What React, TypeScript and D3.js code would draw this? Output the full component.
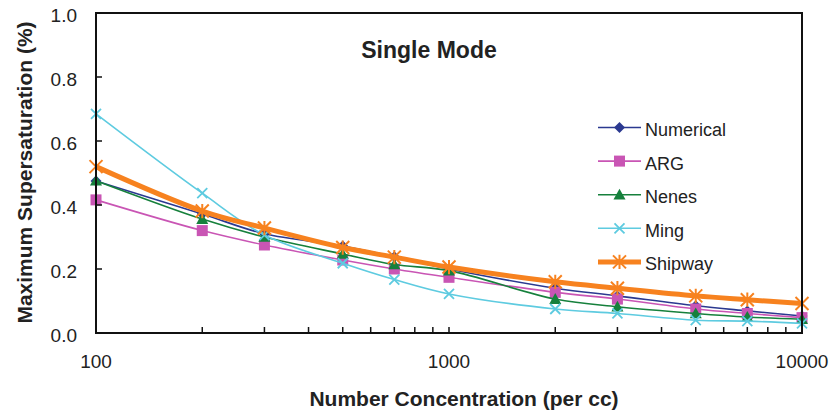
import React from "react";
import * as d3 from "d3";

const concentrations = [100, 200, 300, 500, 700, 1000, 2000, 3000, 5000, 7000, 10000];
const numerical = [0.475, 0.372, 0.31, 0.272, 0.238, 0.2, 0.14, 0.116, 0.085, 0.069, 0.053];
const arg = [0.416, 0.32, 0.275, 0.228, 0.2, 0.174, 0.127, 0.106, 0.075, 0.061, 0.048];
const nenes = [0.476, 0.356, 0.3, 0.247, 0.214, 0.195, 0.106, 0.082, 0.061, 0.05, 0.043];
const ming = [0.685, 0.437, 0.306, 0.218, 0.167, 0.122, 0.075, 0.061, 0.04, 0.037, 0.03];
const shipway = [0.52, 0.381, 0.328, 0.267, 0.237, 0.206, 0.16, 0.14, 0.116, 0.104, 0.092];
const seriesNames = ["Numerical", "ARG", "Nenes", "Ming", "Shipway"];
const yTicks = [0, 0.2, 0.4, 0.6, 0.8, 1.0];
const xLabels = [100, 1000, 10000];

const colors = ["#2b3990", "#c955b4", "#16803c", "#5ecbe0", "#f7821f"];
const widths = [1.6, 1.6, 1.6, 1.6, 5];
const markerTypes = ["diamond", "square", "triangle", "x", "star"];

const W = 833, H = 412;
const L = 96, R = 802, T = 13, B = 333;
const font = "'Liberation Sans', Arial, sans-serif";

function Marker({ type, x, y, color }: { type: string; x: number; y: number; color: string }) {
  if (type === "diamond") {
    const s = 5.5;
    return <path d={`M${x},${y - s}L${x + s},${y}L${x},${y + s}L${x - s},${y}Z`} fill={color} />;
  }
  if (type === "square") {
    const s = 5.5;
    return <rect x={x - s} y={y - s} width={2 * s} height={2 * s} fill={color} />;
  }
  if (type === "triangle") {
    const s = 6;
    return <path d={`M${x},${y - s}L${x + s},${y + s * 0.8}L${x - s},${y + s * 0.8}Z`} fill={color} />;
  }
  if (type === "x") {
    const s = 5;
    return (
      <path d={`M${x - s},${y - s}L${x + s},${y + s}M${x - s},${y + s}L${x + s},${y - s}`} stroke={color} strokeWidth={1.8} />
    );
  }
  const s = 6.5;
  return (
    <path
      d={`M${x - s},${y - s}L${x + s},${y + s}M${x - s},${y + s}L${x + s},${y - s}M${x},${y - s * 1.1}L${x},${y + s * 1.1}`}
      stroke={color}
      strokeWidth={2}
    />
  );
}

export default function App() {
  const x = d3.scaleLog().domain([100, 10000]).range([L, R]);
  const y = d3.scaleLinear().domain([0, 1]).range([B, T]);
  const data = [numerical, arg, nenes, ming, shipway];
  const line = d3
    .line<number>()
    .x((_, i) => x(concentrations[i]))
    .y((d) => y(d))
    .curve(d3.curveCatmullRom.alpha(0.5));

  const minorTicks = x.ticks().filter((t) => t > 100 && t < 10000);

  return (
    <svg width={W} height={H} style={{ position: "absolute", left: 0, top: 0, background: "#fff" }}>
      {/* series */}
      {data.map((vals, si) => (
        <g key={seriesNames[si]}>
          <path d={line(vals) || ""} fill="none" stroke={colors[si]} strokeWidth={widths[si]} />
          {vals.map((v, i) => (
            <Marker key={i} type={markerTypes[si]} x={x(concentrations[i])} y={y(v)} color={colors[si]} />
          ))}
        </g>
      ))}
      {/* frame */}
      <rect x={L} y={T} width={R - L} height={B - T} fill="none" stroke="#111" strokeWidth={2} />
      {yTicks.map((t) => (
        <g key={t}>
          <line x1={L} x2={L + 6} y1={y(t)} y2={y(t)} stroke="#111" strokeWidth={1.5} />
          <text x={77} y={y(t) + 8.5} textAnchor="end" fontFamily={font} fontSize={19} fill="#222">
            {d3.format(".1f")(t)}
          </text>
        </g>
      ))}
      {minorTicks.map((t) => (
        <line key={t} x1={x(t)} x2={x(t)} y1={B} y2={B - 6} stroke="#111" strokeWidth={1.5} />
      ))}
      {xLabels.map((t) => (
        <text key={t} x={x(t)} y={368} textAnchor="middle" fontFamily={font} fontSize={19} fill="#222">
          {t}
        </text>
      ))}
      <text x={464} y={406} textAnchor="middle" fontFamily={font} fontSize={21} fontWeight="bold" fill="#222">
        Number Concentration (per cc)
      </text>
      <text
        transform={`translate(32,172.5) rotate(-90)`}
        textAnchor="middle"
        fontFamily={font}
        fontSize={21}
        fontWeight="bold"
        fill="#222"
      >
        Maximum Supersaturation (%)
      </text>
      <text x={429} y={58} textAnchor="middle" fontFamily={font} fontSize={23} fontWeight="bold" fill="#222">
        Single Mode
      </text>
      {/* legend */}
      {seriesNames.map((n, i) => {
        const ly = 127.5 + i * 33.6;
        return (
          <g key={n}>
            <line x1={598} x2={641} y1={ly} y2={ly} stroke={colors[i]} strokeWidth={widths[i]} />
            <Marker type={markerTypes[i]} x={619.5} y={ly} color={colors[i]} />
            <text x={645} y={ly + 8.5} fontFamily={font} fontSize={18} fill="#222">
              {n}
            </text>
          </g>
        );
      })}
    </svg>
  );
}
